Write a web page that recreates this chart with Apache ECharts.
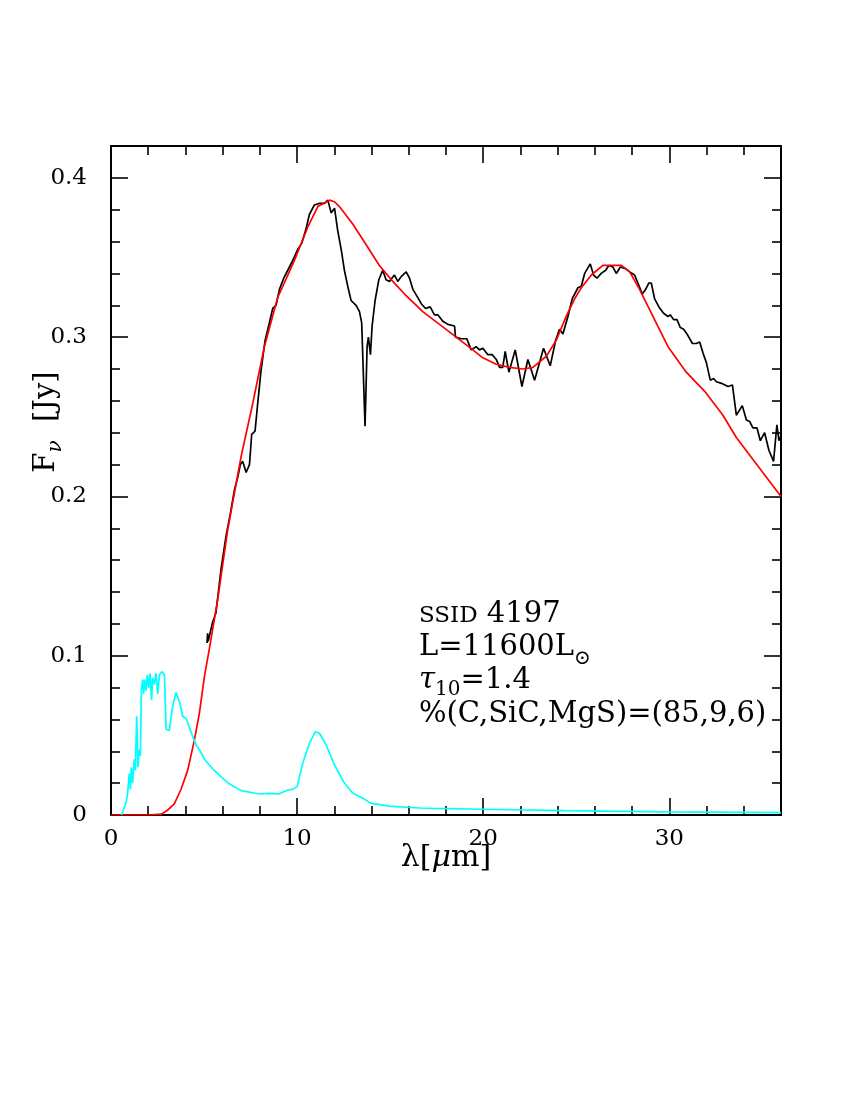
<!DOCTYPE html>
<html>
<head>
<meta charset="utf-8">
<script src="https://cdn.jsdelivr.net/npm/echarts@6/dist/echarts.min.js"></script>
<style>
html,body{margin:0;padding:0;background:#fff;}
#chart{width:850px;height:1100px;}
</style>
</head>
<body>
<div id="chart"></div>
<script>
// Observed spectrum (black)
const obsWave = [5.16,5.19,5.22,5.46,5.64,5.91,6.18,6.41,6.63,6.81,6.95,7.08,7.26,7.44,7.56,7.74,7.88,8.06,8.28,8.51,8.69,8.87,9.05,9.28,9.50,9.76,10.03,10.25,10.48,10.66,10.93,11.20,11.47,11.65,11.83,12.01,12.18,12.37,12.54,12.72,12.90,13.17,13.35,13.47,13.65,13.76,13.83,13.94,14.03,14.19,14.39,14.60,14.78,14.96,15.23,15.41,15.59,15.86,16.04,16.22,16.48,16.67,16.90,17.15,17.38,17.56,17.83,18.10,18.46,18.51,18.82,19.12,19.35,19.62,19.80,19.98,20.25,20.48,20.70,20.88,21.05,21.18,21.38,21.72,22.08,22.40,22.76,23.24,23.60,23.89,24.10,24.28,24.55,24.78,25.09,25.27,25.45,25.75,25.93,26.11,26.34,26.58,26.75,26.97,27.15,27.37,27.65,27.87,28.13,28.31,28.55,28.73,28.90,29.03,29.21,29.44,29.69,29.93,30.05,30.23,30.41,30.59,30.77,31.00,31.24,31.45,31.63,31.81,31.99,32.20,32.38,32.53,32.80,33.15,33.39,33.60,33.92,34.14,34.32,34.49,34.71,34.89,35.12,35.35,35.60,35.78,35.89,36.00];
const obsFlux = [0.108,0.114,0.109,0.121,0.127,0.154,0.175,0.189,0.204,0.212,0.220,0.222,0.215,0.220,0.239,0.241,0.258,0.279,0.298,0.309,0.318,0.320,0.330,0.337,0.342,0.348,0.355,0.359,0.368,0.377,0.383,0.384,0.384,0.386,0.378,0.381,0.367,0.355,0.342,0.332,0.323,0.320,0.316,0.309,0.244,0.294,0.300,0.289,0.307,0.323,0.336,0.342,0.336,0.335,0.339,0.335,0.338,0.341,0.337,0.330,0.325,0.321,0.318,0.319,0.314,0.314,0.310,0.308,0.307,0.300,0.299,0.299,0.292,0.294,0.292,0.293,0.289,0.289,0.286,0.281,0.281,0.291,0.278,0.292,0.269,0.286,0.273,0.293,0.282,0.298,0.305,0.302,0.313,0.324,0.331,0.332,0.340,0.346,0.339,0.337,0.340,0.342,0.345,0.344,0.340,0.344,0.343,0.341,0.339,0.334,0.327,0.330,0.334,0.334,0.324,0.319,0.315,0.313,0.314,0.311,0.311,0.306,0.305,0.301,0.296,0.296,0.297,0.290,0.284,0.273,0.274,0.272,0.271,0.269,0.270,0.251,0.257,0.248,0.247,0.243,0.243,0.235,0.240,0.229,0.222,0.245,0.235,0.238];

// Dust model (red)
const modelWave = [0,2.0,2.69,3.04,3.40,3.76,4.12,4.48,4.75,5.02,5.28,5.73,6.27,6.99,7.61,8.24,8.96,9.85,10.57,11.11,11.74,12.01,12.27,12.99,13.71,14.42,15.14,15.86,16.75,17.65,18.55,19.44,19.98,20.70,21.41,22.13,22.67,23.39,23.92,24.46,24.91,25.27,25.81,26.43,27.42,27.87,28.40,29.12,29.93,30.91,31.90,32.88,33.60,36.00];
const modelFlux = [0,0,0.0005,0.003,0.007,0.016,0.028,0.047,0.064,0.087,0.104,0.135,0.179,0.225,0.258,0.294,0.325,0.348,0.369,0.382,0.386,0.385,0.382,0.371,0.358,0.345,0.335,0.326,0.316,0.308,0.300,0.292,0.287,0.283,0.281,0.280,0.281,0.288,0.298,0.313,0.324,0.331,0.339,0.345,0.345,0.341,0.330,0.313,0.294,0.278,0.266,0.251,0.237,0.200];

// Stellar component (cyan)
const starWave = [0.56,0.72,0.81,0.89,0.98,1.04,1.09,1.16,1.25,1.31,1.38,1.45,1.52,1.58,1.63,1.70,1.75,1.81,1.88,1.95,2.02,2.10,2.18,2.24,2.33,2.42,2.51,2.60,2.74,2.87,2.96,3.13,3.31,3.49,3.58,3.71,3.85,4.07,4.30,4.57,4.75,5.02,5.46,5.91,6.36,6.99,7.97,8.51,9.01,9.50,9.76,10.0,10.30,10.66,10.98,11.20,11.56,12.01,12.49,12.99,13.53,13.98,14.96,16.58,17.3,19.98,24.46,29.84,36.0];
const starFlux = [0,0.005,0.008,0.013,0.026,0.016,0.030,0.020,0.035,0.028,0.062,0.030,0.041,0.037,0.078,0.085,0.076,0.085,0.078,0.088,0.080,0.089,0.072,0.086,0.082,0.089,0.076,0.088,0.090,0.088,0.054,0.053,0.068,0.077,0.077,0.070,0.062,0.060,0.052,0.044,0.041,0.035,0.029,0.024,0.0195,0.0153,0.0132,0.0136,0.0132,0.0157,0.0161,0.0178,0.0325,0.045,0.0523,0.0513,0.044,0.0314,0.0209,0.0136,0.0105,0.0073,0.0056,0.0044,0.0042,0.0036,0.0027,0.0019,0.0015];

const xRange = [0, 36];
const yRange = [0, 0.42];
const xStep = 10;
const yStep = 0.1;

const zip = (a, b) => a.map((v, i) => [v, b[i]]);
const FONT = 'DejaVu Serif';

function axisCommon(showLabel, isY) {
  return {
    type: 'value',
    min: isY ? yRange[0] : xRange[0],
    max: isY ? yRange[1] : xRange[1],
    interval: isY ? yStep : xStep,
    axisLine: { show: true, onZero: false, lineStyle: { color: '#000', width: 2 } },
    axisTick: { show: true, inside: true, length: 17, lineStyle: { color: '#000', width: 1.6 } },
    minorTick: { show: true, splitNumber: 5, length: 9, lineStyle: { color: '#000', width: 1.6 } },
    splitLine: { show: false },
    minorSplitLine: { show: false },
    axisLabel: {
      show: showLabel, showMaxLabel: false, color: '#000',
      fontFamily: FONT, fontSize: 23, margin: isY ? 24 : 13
    }
  };
}

const chart = echarts.init(document.getElementById('chart'), null, { renderer: 'canvas' });
chart.setOption({
  animation: false,
  backgroundColor: '#fff',
  grid: { left: 111, right: 69, top: 146, bottom: 285, containLabel: false },
  xAxis: [
    Object.assign(axisCommon(true, false), { position: 'bottom' }),
    Object.assign(axisCommon(false, false), { position: 'top' })
  ],
  yAxis: [
    Object.assign(axisCommon(true, true), { position: 'left' }),
    Object.assign(axisCommon(false, true), { position: 'right' })
  ],
  series: [
    { type: 'line', name: 'observed', data: zip(obsWave, obsFlux), showSymbol: false, clip: true,
      lineStyle: { color: '#000', width: 1.7 }, itemStyle: { color: '#000' } },
    { type: 'line', name: 'model', data: zip(modelWave, modelFlux), showSymbol: false, clip: true,
      lineStyle: { color: '#ff0000', width: 1.7 }, itemStyle: { color: '#ff0000' } },
    { type: 'line', name: 'star', data: zip(starWave, starFlux), showSymbol: false, clip: true,
      lineStyle: { color: '#00ffff', width: 1.7 }, itemStyle: { color: '#00ffff' } }
  ],
  graphic: [
    { type: 'text', x: 446, y: 858,
      style: { text: '{a|λ[}{b|μ}{a|m]}', align: 'center', verticalAlign: 'middle',
        textAlign: 'center', textVerticalAlign: 'middle', fill: '#000',
        rich: { a: { fontFamily: FONT, fontSize: 30, fill: '#000' },
                b: { fontFamily: FONT, fontSize: 30, fontStyle: 'italic', fill: '#000' } } } },
    { type: 'text', x: 46, y: 422, rotation: Math.PI / 2,
      style: { text: '{a|F}{s|ν}{a|  [Jy]}', align: 'center', verticalAlign: 'middle',
        textAlign: 'center', textVerticalAlign: 'middle', fill: '#000',
        rich: { a: { fontFamily: FONT, fontSize: 29, fill: '#000' },
                s: { fontFamily: FONT, fontSize: 20, fontStyle: 'italic', fill: '#000', padding: [20, 0, 0, 0] } } } },
    { type: 'text', x: 419, y: 614,
      style: { text: '{c|SSID}{a| 4197}', align: 'left', verticalAlign: 'middle',
        textAlign: 'left', textVerticalAlign: 'middle', fill: '#000',
        rich: { a: { fontFamily: FONT, fontSize: 29, fill: '#000' },
                c: { fontFamily: FONT, fontSize: 23, fill: '#000', padding: [5, 0, 0, 0] } } } },
    { type: 'text', x: 419, y: 647,
      style: { text: '{a|L=11600L}{s|⊙}', align: 'left', verticalAlign: 'middle',
        textAlign: 'left', textVerticalAlign: 'middle', fill: '#000',
        rich: { a: { fontFamily: FONT, fontSize: 29, fill: '#000' },
                s: { fontFamily: FONT, fontSize: 20, fill: '#000', padding: [24, 0, 0, 0] } } } },
    { type: 'text', x: 419, y: 680,
      style: { text: '{i|τ}{s|10}{a|=1.4}', align: 'left', verticalAlign: 'middle',
        textAlign: 'left', textVerticalAlign: 'middle', fill: '#000',
        rich: { a: { fontFamily: FONT, fontSize: 29, fill: '#000' },
                i: { fontFamily: FONT, fontSize: 29, fontStyle: 'italic', fill: '#000' },
                s: { fontFamily: FONT, fontSize: 20, fill: '#000', padding: [20, 0, 0, 0] } } } },
    { type: 'text', x: 419, y: 714,
      style: { text: '%(C,SiC,MgS)=(85,9,6)', align: 'left', verticalAlign: 'middle',
        textAlign: 'left', textVerticalAlign: 'middle', fill: '#000',
        fontFamily: FONT, fontSize: 29, font: '29px "DejaVu Serif"' } }
  ]
});
</script>
</body>
</html>
